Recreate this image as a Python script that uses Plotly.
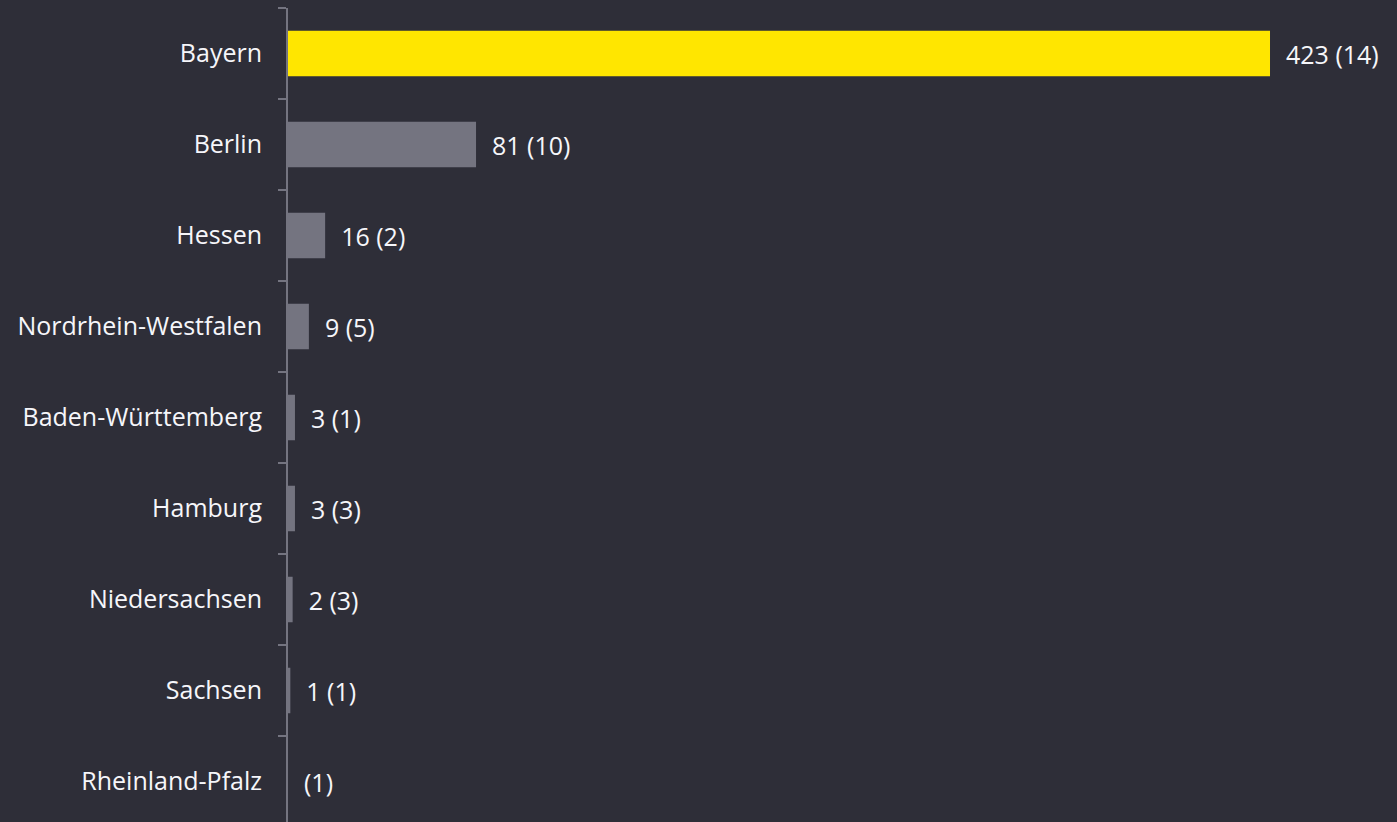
import plotly.graph_objects as go

# Bundesländer, Wert und Anzahl (in Klammern)
regions = ['Bayern', 'Berlin', 'Hessen', 'Nordrhein-Westfalen', 'Baden-Württemberg',
           'Hamburg', 'Niedersachsen', 'Sachsen', 'Rheinland-Pfalz']
values = [423, 81, 16, 9, 3, 3, 2, 1, 0]
counts = [14, 10, 2, 5, 1, 3, 3, 1, 1]

BG = '#2e2e38'
GREY = '#747480'
YELLOW = '#ffe600'
FONT = 'Open Sans'

colors = [YELLOW if i == 0 else GREY for i in range(len(regions))]
labels = [f'\u00a0\u00a0{v} ({c})' if v else f'\u00a0\u00a0({c})' for v, c in zip(values, counts)]

fig = go.Figure(
    go.Bar(
        x=values,
        y=regions,
        orientation='h',
        marker=dict(color=colors, line=dict(width=0)),
        width=0.5,
        text=labels,
        textposition='outside',
        constraintext='none',
        cliponaxis=False,
        outsidetextfont=dict(color='#f6f6fa', size=25, family=FONT),
        hoverinfo='skip',
    )
)

fig.update_layout(
    width=1397,
    height=822,
    plot_bgcolor=BG,
    paper_bgcolor=BG,
    font=dict(family=FONT, color='#f6f6fa', size=25),
    margin=dict(l=288, r=0, t=8, b=0),
    showlegend=False,
)

fig.update_xaxes(
    range=[0, 477.7],
    visible=False,
    showgrid=False,
    zeroline=False,
)

fig.update_yaxes(
    type='category',
    categoryorder='array',
    categoryarray=regions,
    range=[8.445, -0.5],
    showline=True,
    linecolor=GREY,
    linewidth=2,
    ticks='outside',
    tickson='boundaries',
    ticklen=8,
    tickwidth=2,
    tickcolor=GREY,
    ticklabelstandoff=19,
    showgrid=False,
    zeroline=False,
    tickfont=dict(color='#f6f6fa', size=25, family=FONT),
)

# Seitenrand des Browsers entfernen
fig.write_html('out.html', config={'displayModeBar': False},
               post_script="document.body.style.margin='0';")
